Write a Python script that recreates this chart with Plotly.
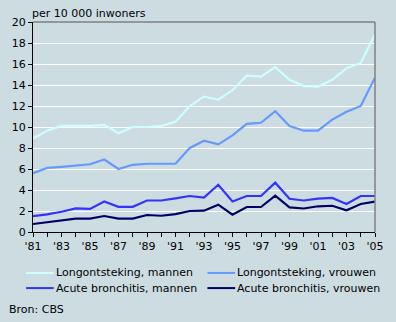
import plotly.graph_objects as go

years = list(range(1981, 2006))
tick_vals = list(range(1981, 2006, 2))
tick_text = ["'81", "'83", "'85", "'87", "'89", "'91", "'93", "'95", "'97", "'99", "'01", "'03", "'05"]

long_mannen = [8.9, 9.65, 10.1, 10.1, 10.1, 10.2, 9.4, 10.0, 10.0, 10.1, 10.5, 12.0, 12.9, 12.6, 13.5,
               14.9, 14.8, 15.7, 14.5, 13.9, 13.85, 14.5, 15.6, 16.1, 18.8]
long_vrouwen = [5.6, 6.1, 6.2, 6.3, 6.45, 6.9, 6.0, 6.4, 6.5, 6.5, 6.5, 8.0, 8.7, 8.35, 9.2,
                10.3, 10.4, 11.5, 10.1, 9.65, 9.65, 10.7, 11.45, 12.0, 14.7]
acute_mannen = [1.52, 1.68, 1.93, 2.25, 2.2, 2.9, 2.4, 2.4, 3.0, 3.0, 3.2, 3.43, 3.27, 4.5, 2.9,
                3.43, 3.43, 4.7, 3.17, 3.0, 3.17, 3.24, 2.67, 3.43, 3.43]
acute_vrouwen = [0.76, 0.92, 1.14, 1.27, 1.27, 1.52, 1.27, 1.27, 1.62, 1.55, 1.71, 2.0, 2.03, 2.6, 1.65,
                 2.38, 2.38, 3.46, 2.35, 2.24, 2.45, 2.5, 2.07, 2.67, 2.9]

series_names = ["Longontsteking, mannen", "Longontsteking, vrouwen",
                "Acute bronchitis, mannen", "Acute bronchitis, vrouwen"]
series_values = [long_mannen, long_vrouwen, acute_mannen, acute_vrouwen]
series_colors = ["#ccffff", "#6699ff", "#3333ff", "#000066"]

BG = "#cddce1"
FONT = "DejaVu Sans"

fig = go.Figure()
for name, vals, col in zip(series_names, series_values, series_colors):
    fig.add_trace(go.Scatter(x=years, y=vals, mode="lines", name=name,
                             line=dict(color=col, width=2.2), showlegend=False))

# legend drawn manually (two columns, two rows) in paper coordinates
legend_pos = [(-0.0203, -0.195), (0.510, -0.195), (-0.0203, -0.267), (0.510, -0.267)]
shapes = [
    dict(type="line", xref="paper", yref="paper", x0=0, x1=1, y0=1, y1=1,
         line=dict(color="#808080", width=1.5)),
    dict(type="line", xref="paper", yref="paper", x0=1, x1=1, y0=0, y1=1,
         line=dict(color="#808080", width=1.5)),
]
annotations = [
    dict(text="per 10 000 inwoners", xref="paper", yref="paper", x=0, y=1, xanchor="left",
         yanchor="bottom", showarrow=False, font=dict(family=FONT, size=11), xshift=-3),
    dict(text="Bron: CBS", xref="paper", yref="paper", x=-0.0696, y=-0.371, xanchor="left",
         yanchor="middle", showarrow=False, font=dict(family=FONT, size=11), xshift=-2),
]
for name, col, (lx, ly) in zip(series_names, series_colors, legend_pos):
    shapes.append(dict(type="line", xref="paper", yref="paper", x0=lx, x1=lx + 0.081, y0=ly, y1=ly,
                       line=dict(color=col, width=2)))
    annotations.append(dict(text=name, xref="paper", yref="paper", x=lx + 0.085, y=ly,
                            xanchor="left", yanchor="middle", showarrow=False,
                            font=dict(family=FONT, size=11), xshift=-1))

fig.update_layout(
    width=396, height=322,
    margin=dict(l=32, r=19, t=22, b=90),
    paper_bgcolor=BG, plot_bgcolor=BG,
    font=dict(family=FONT, size=11, color="#000000"),
    showlegend=False,
    xaxis=dict(range=[1981, 2005], tickvals=tick_vals, ticktext=tick_text,
               showgrid=False, zeroline=False, showline=True, linecolor="#000000", linewidth=1,
               ticks="outside", ticklen=4, tickcolor="#000000",
               minor=dict(ticks="outside", ticklen=4, tickcolor="#000000", dtick=1, tick0=1981),
               fixedrange=True),
    yaxis=dict(range=[0, 20], tickvals=list(range(0, 21, 2)), showgrid=True, gridcolor="#ffffff",
               gridwidth=1, zeroline=False, showline=True, linecolor="#000000", linewidth=1,
               ticks="outside", ticklen=4, tickcolor="#000000", fixedrange=True),
    shapes=shapes,
    annotations=annotations,
)

fig.write_html("out.html")
